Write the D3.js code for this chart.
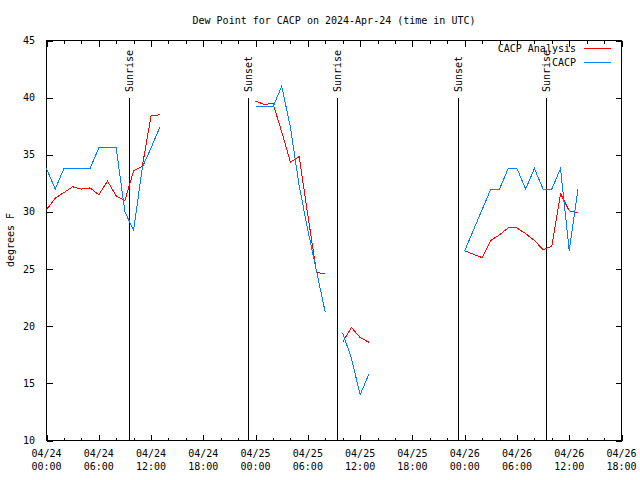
<!DOCTYPE html>
<html><head><meta charset="utf-8">
<script src="https://cdn.jsdelivr.net/npm/d3@7"></script>
<style>
html,body{margin:0;padding:0;background:#fff;}
text{font-family:"DejaVu Sans Mono",monospace;font-size:10px;fill:#000;}
</style></head>
<body>
<svg id="chart" width="640" height="480"></svg>
<script>
// ---- data (hours after 2024-04-24 00:00 UTC) ----
const hours = [0,1,2,3,4,5,6,7,8,9,10,11,12,13,14,
               24,25,26,27,28,29,30,31,32,33,
               34,35,36,37,38,
               48,49,50,51,52,53,54,55,56,57,58,59,60,61];
const analysisValues = [30.2,31.2,31.7,32.2,32.0,32.1,31.5,32.7,31.4,31.0,33.6,34.0,38.4,38.5,null,
               39.7,39.4,39.5,37.0,34.35,34.85,29.7,24.7,24.6,null,
               18.6,19.9,19.0,18.6,null,
               26.6,26.3,26.0,27.5,28.0,28.6,28.6,28.1,27.5,26.7,27.0,31.6,30.1,29.9];
const observedValues = [33.8,32.0,33.8,33.8,33.8,33.8,35.6,35.6,35.6,30.0,28.4,33.9,35.6,37.4,null,
               39.2,39.2,39.2,41.0,37.4,32.3,28.4,24.8,21.2,null,
               19.4,17.2,14.0,15.8,null,
               26.6,28.4,30.2,32.0,32.0,33.8,33.8,32.0,33.8,32.0,32.0,33.8,26.6,32.0];
const seriesNames = ["CACP Analysis","CACP"];
const seriesColors = ["#ff0000","#0080ff"];
const sunEvents = [
  {label:"Sunrise", time:"2024-04-24T09:25:00Z"},
  {label:"Sunset",  time:"2024-04-24T23:11:00Z"},
  {label:"Sunrise", time:"2024-04-25T09:24:00Z"},
  {label:"Sunset",  time:"2024-04-25T23:11:00Z"},
  {label:"Sunrise", time:"2024-04-26T09:23:00Z"}
];
const yTicks = [10,15,20,25,30,35,40,45];
const title = "Dew Point for CACP on 2024-Apr-24 (time in UTC)";
const yLabel = "degrees F";

// ---- layout ----
const L = 46.5, R = 621.5, T = 40.5, B = 440.5;
const t0 = new Date("2024-04-24T00:00:00Z"), t1 = new Date("2024-04-26T18:00:00Z");
const svg = d3.select("#chart");
const x = d3.scaleUtc().domain([t0, t1]).range([L, R]);
const y = d3.scaleLinear().domain([10, 45]).range([B, T]);
const toDate = h => new Date(t0.getTime() + h * 3600000);

// frame
svg.append("rect").attr("x", L).attr("y", T).attr("width", R - L).attr("height", B - T)
  .attr("fill", "none").attr("stroke", "#000").attr("shape-rendering", "crispEdges");

// x ticks: major every 6h, minor every 2h, mirrored
const g = svg.append("g").attr("shape-rendering", "crispEdges").attr("stroke", "#000");
const minor = d3.utcHour.every(2).range(t0, new Date(t1.getTime() + 1));
minor.forEach(d => {
  const major = d.getUTCHours() % 6 === 0;
  const len = major ? 6 : 3;
  const px = Math.round(x(d)) + 0.5;
  g.append("line").attr("x1", px).attr("x2", px).attr("y1", B).attr("y2", B - len);
  g.append("line").attr("x1", px).attr("x2", px).attr("y1", T).attr("y2", T + len);
});
yTicks.forEach(v => {
  const py = Math.round(y(v)) + 0.5;
  g.append("line").attr("x1", L).attr("x2", L + 6).attr("y1", py).attr("y2", py);
  g.append("line").attr("x1", R).attr("x2", R - 6).attr("y1", py).attr("y2", py);
});

// x tick labels
const majors = d3.utcHour.every(6).range(t0, new Date(t1.getTime() + 1));
const fDay = d3.utcFormat("%m/%d"), fTime = d3.utcFormat("%H:%M");
majors.forEach(d => {
  const t = svg.append("text").attr("text-anchor", "middle");
  t.append("tspan").attr("x", x(d)).attr("y", 457).text(fDay(d));
  t.append("tspan").attr("x", x(d)).attr("y", 470).text(fTime(d));
});
// y tick labels
yTicks.forEach(v => {
  svg.append("text").attr("x", 35).attr("y", y(v)).attr("dy", "0.35em")
    .attr("text-anchor", "end").text(v);
});

// title and axis label
svg.append("text").attr("x", 334).attr("y", 24).attr("text-anchor", "middle").text(title);
svg.append("text").attr("transform", "translate(10,240) rotate(-90)")
  .attr("text-anchor", "middle").attr("dy", "0.35em").text(yLabel);

// sunrise / sunset lines
sunEvents.forEach(e => {
  const d = new Date(e.time);
  const px = Math.round(x(d)) + 0.5;
  svg.append("line").attr("x1", px).attr("x2", px).attr("y1", 98).attr("y2", B)
    .attr("stroke", "#000").attr("shape-rendering", "crispEdges");
  svg.append("text").attr("transform", `translate(${px},92) rotate(-90)`)
    .attr("dy", "0.35em").attr("text-anchor", "start").text(e.label);
});

// data lines
const rows = hours.map((h, i) => ({t: toDate(h), a: analysisValues[i], o: observedValues[i]}));
const mk = key => d3.line().defined(d => d[key] != null).x(d => x(d.t)).y(d => y(d[key]));
svg.append("path").datum(rows).attr("d", mk("a")).attr("fill", "none")
  .attr("stroke", seriesColors[0]).attr("stroke-width", 1).attr("shape-rendering", "crispEdges");
svg.append("path").datum(rows).attr("d", mk("o")).attr("fill", "none")
  .attr("stroke", seriesColors[1]).attr("stroke-width", 1).attr("shape-rendering", "crispEdges");

// legend
seriesNames.forEach((name, i) => {
  const ly = 48.5 + i * 14;
  svg.append("text").attr("x", 576).attr("y", ly).attr("dy", "0.35em")
    .attr("text-anchor", "end").text(name);
  svg.append("line").attr("x1", 584).attr("x2", 611).attr("y1", ly).attr("y2", ly)
    .attr("stroke", seriesColors[i]).attr("shape-rendering", "crispEdges");
});
</script>
</body></html>
